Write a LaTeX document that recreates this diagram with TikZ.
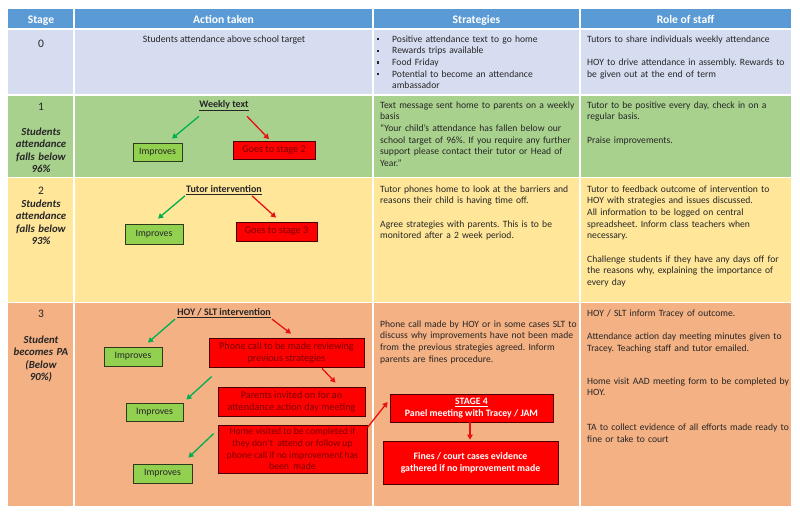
\documentclass[tikz,border=0pt]{standalone}
\usepackage{fontspec}
\setmainfont{Carlito}
\usetikzlibrary{arrows.meta}
\frenchspacing
\definecolor{headblue}{HTML}{5B9BD5}
\definecolor{rowzero}{HTML}{D6DDF0}
\definecolor{rowone}{HTML}{A9D18E}
\definecolor{rowtwo}{HTML}{FFE699}
\definecolor{rowthree}{HTML}{F4B183}
\definecolor{textc}{HTML}{262626}
\definecolor{impfill}{HTML}{92D050}
\definecolor{gborder}{HTML}{2F3A1C}
\definecolor{redfill}{HTML}{FF0000}
\definecolor{rborder}{HTML}{4A0000}
\definecolor{darkred}{HTML}{7A0000}
\definecolor{arrgreen}{HTML}{00B050}
\definecolor{arrred}{HTML}{E81010}
\newcommand\bul{\makebox[16pt][l]{\hspace*{0.5pt}\rule[1.9pt]{2.2pt}{2.2pt}}}
\tikzset{
  txt/.style={anchor=base west, inner sep=0, font=\fontsize{9.6}{11.7}\selectfont\frenchspacing, text=textc, align=left, text width=240pt},
  ctxt/.style={anchor=base, inner sep=0, font=\fontsize{9.8}{11.7}\selectfont, text=textc},
  head/.style={anchor=base, inner sep=0, font=\fontsize{11.6}{13}\selectfont\bfseries, text=white},
  num/.style={anchor=base, inner sep=0, font=\fontsize{11.5}{13}\selectfont, text=textc},
  stg/.style={anchor=base, inner sep=0, font=\fontsize{10.8}{12.3}\selectfont\bfseries\itshape, align=center, text width=66pt, text=textc},
  ttl/.style={anchor=base, inner sep=0, font=\fontsize{10}{11}\selectfont\bfseries, text=textc},
  gbox/.style={draw=gborder, fill=impfill, line width=0.8pt, inner sep=0, font=\fontsize{9.8}{11.7}\selectfont, text=textc},
  rbox/.style={draw=rborder, fill=redfill, line width=0.8pt, inner sep=0, align=center, font=\fontsize{10.2}{11.9}\selectfont\frenchspacing, text=darkred},
  wbox/.style={rbox, text=white, font=\fontsize{9.8}{12}\selectfont\bfseries},
  garr/.style={draw=arrgreen, line width=1.3pt, -{Triangle[length=5pt,width=5.5pt]}},
  rarr/.style={draw=arrred, line width=1.3pt, -{Triangle[length=5pt,width=5.5pt]}},
  grid/.style={draw=white, line width=1.5pt}
}
\begin{document}
\begin{tikzpicture}[x=1pt,y=-1pt]
\useasboundingbox (0,0) rectangle (800,514);
\fill[white] (0,0) rectangle (800,514);
% row fills
\fill[headblue] (8,9) rectangle (791,29);
\fill[rowzero] (8,29) rectangle (791,95);
\fill[rowone] (8,95) rectangle (791,177.5);
\fill[rowtwo] (8,177.5) rectangle (791,302.5);
\fill[rowthree] (8,302.5) rectangle (791,506);
% grid lines
\draw[grid] (8,29) -- (791,29);
\draw[grid] (8,95) -- (791,95);
\draw[grid] (8,177.5) -- (791,177.5);
\draw[grid] (8,302.5) -- (791,302.5);
\draw[grid] (74,9) -- (74,506);
\draw[grid] (373,9) -- (373,506);
\draw[grid] (580,9) -- (580,506);
% header
\node[head] (hstage) at (41,23.5) {Stage};
\node[head] (haction) at (223.5,23.5) {Action taken};
\node[head] (hstrat) at (476.5,23.5) {Strategies};
\node[head] (hrole) at (685.5,23.5) {Role of staff};
% row 0
\node[num] (n0) at (41,47) {0};
\node[ctxt] (a0) at (224,42) {Students attendance above school target};
\node[txt] (st0) at (376,42) {\bul Positive attendance text to go home\\\bul Rewards trips available\\\bul Food Friday\\\bul Potential to become an attendance\\\hspace*{16pt}ambassador};
\node[txt] (r0) at (587,42) {Tutors to share individuals weekly attendance\\[11.7pt]HOY to drive attendance in assembly. Rewards to\\be given out at the end of term};
% row 1
\node[num] (n1) at (41,110) {1};
\node[stg] (l1) at (41,135.5) {Students\\attendance\\falls below\\96\%};
\node[ttl] (wt) at (224,107.5) {\underline{Weekly text}};
\node[gbox, minimum width=49pt, minimum height=18pt] (imp1) at (157.5,152) {Improves};
\node[rbox, minimum width=82pt, minimum height=18pt] (g2) at (274,150) {Goes to stage 2};
\draw[garr] ([shift={(-25,5)}]wt.south) -- ([shift={(14.5,-4)}]imp1.north);
\draw[rarr] ([shift={(23,5)}]wt.south) -- ([shift={(-5,-1.5)}]g2.north);
\node[txt] (st1) at (380,108) {Text message sent home to parents on a weekly\\basis\\“Your child’s attendance has fallen below our\\school target of 96\%. If you require any further\\support please contact their tutor or Head of\\Year.”};
\node[txt] (r1) at (587,108) {Tutor to be positive every day, check in on a\\regular basis.\\[11.7pt]Praise improvements.};
% row 2
\node[num] (n2) at (41,194) {2};
\node[stg] (l2) at (41,207.5) {Students\\attendance\\falls below\\93\%};
\node[ttl] (ti) at (224,192.5) {\underline{Tutor intervention}};
\node[gbox, minimum width=58pt, minimum height=20pt] (imp2) at (154,234) {Improves};
\node[rbox, minimum width=81pt, minimum height=19pt] (g3) at (276.5,231.5) {Goes to stage 3};
\draw[garr] ([shift={(-39,1)}]ti.south) -- ([shift={(4,-5)}]imp2.north);
\draw[rarr] ([shift={(28,1)}]ti.south) -- ([shift={(-0.5,-4)}]g3.north);
\node[txt] (st2) at (380,192) {Tutor phones home to look at the barriers and\\reasons their child is having time off.\\[11.7pt]Agree strategies with parents. This is to be\\monitored after a 2 week period.};
\node[txt] (r2) at (587,192) {Tutor to feedback outcome of intervention to\\HOY with strategies and issues discussed.\\All information to be logged on central\\spreadsheet. Inform class teachers when\\necessary.\\[11.7pt]Challenge students if they have any days off for\\the reasons why, explaining the importance of\\every day};
% row 3
\node[num] (n3) at (41,317) {3};
\node[stg] (l3) at (41,343.5) {Student\\becomes PA\\(Below\\90\%)};
\node[ttl] (hoy) at (224,315.5) {\underline{HOY / SLT intervention}};
\node[gbox, minimum width=58pt, minimum height=19pt] (imp3) at (133,356.5) {Improves};
\node[rbox, minimum width=155pt, minimum height=29pt] (pc) at (286.5,352.5) {Phone call to be made reviewing\\previous strategies};
\node[rbox, minimum width=147pt, minimum height=29pt] (pi) at (291.5,401.5) {Parents invited on for an\\attendance action day meeting};
\node[gbox, minimum width=57pt, minimum height=18pt] (imp4) at (154.5,412) {Improves};
\node[rbox, minimum width=149pt, minimum height=48pt, font=\fontsize{9.7}{11.7}\selectfont] (hv) at (292.5,449) {Home visited to be completed if\\they don’t\ \ attend or follow up\\phone call if no improvement has\\been\ \ made};
\node[gbox, minimum width=59pt, minimum height=19pt] (imp5) at (162.5,473.5) {Improves};
\node[wbox, minimum width=163pt, minimum height=28pt] (s4) at (471.5,408) {\underline{STAGE 4}\\Panel meeting with Tracey / JAM};
\node[wbox, minimum width=175pt, minimum height=43pt] (fines) at (470.5,462.5) {Fines / court cases evidence\\gathered if no improvement made};
\draw[garr] ([shift={(-49,1)}]hoy.south) -- ([shift={(15,-4)}]imp3.north);
\draw[rarr] ([shift={(48,1)}]hoy.south) -- ([shift={(4.5,-4)}]pc.north);
\draw[rarr] ([shift={(35.5,1)}]pc.south) -- ([shift={(44,-4)}]pi.north);
\draw[garr] ([shift={(-6,-10)}]pi.north west) -- ([shift={(3,-3)}]imp4.north east);
\draw[garr] ([shift={(-4,9)}]hv.north west) -- ([shift={(-4,-6)}]imp5.north east);
\draw[rarr] ([shift={(0,3)}]hv.north east) -- ([shift={(-2,-6)}]s4.west);
\draw[rarr] ([shift={(-1.5,0)}]s4.south) -- ([shift={(-0.5,-1)}]fines.north);
\node[txt] (st3) at (380,327) {Phone call made by HOY or in some cases SLT to\\discuss why improvements have not been made\\from the previous strategies agreed. Inform\\parents are fines procedure.};
\node[txt] (r3a) at (587,316) {HOY / SLT inform Tracey of outcome.\\[11.7pt]Attendance action day meeting minutes given to\\Tracey. Teaching staff and tutor emailed.};
\node[txt] (r3b) at (587,384) {Home visit AAD meeting form to be completed by\\HOY.\\[23.4pt]TA to collect evidence of all efforts made ready to\\fine or take to court};
\end{tikzpicture}
\end{document}
